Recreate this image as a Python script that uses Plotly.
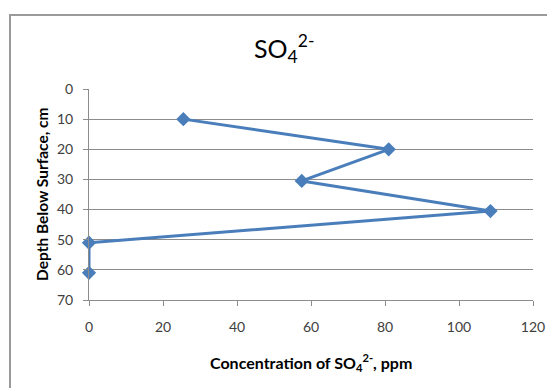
import plotly.graph_objects as go

# Sulfate concentration profile with depth
concentration_ppm = [25.5, 81, 57.5, 108.5, 0, 0]
depth_cm = [10, 20, 30.5, 40.5, 51, 61]
x_ticks = [0, 20, 40, 60, 80, 100, 120]
y_ticks = [0, 10, 20, 30, 40, 50, 60, 70]

W, H = 547, 388
L, R, T, B = 89, 14, 89, 88
pw, ph = W - L - R, H - T - B

font_family = "Lato, Calibri, sans-serif"
line_color = "#4A7EBB"
grid_color = "#8C8C8C"


def px_x(px):
    return (px - L) / pw


def px_y(py):
    return (H - B - py) / ph


fig = go.Figure()
fig.add_trace(go.Scatter(
    x=concentration_ppm,
    y=depth_cm,
    mode="lines+markers",
    line=dict(color=line_color, width=3),
    marker=dict(symbol="diamond", size=11, color=line_color),
    cliponaxis=False,
    showlegend=False,
))

fig.update_layout(
    width=W,
    height=H,
    margin=dict(l=L, r=R, t=T, b=B, autoexpand=False),
    paper_bgcolor="white",
    plot_bgcolor="white",
    font=dict(family=font_family, color="#404040", size=14),
    xaxis=dict(
        range=[0, 120],
        tickvals=x_ticks,
        showgrid=False,
        zeroline=False,
        showline=True,
        linecolor=grid_color,
        linewidth=1,
        ticks="outside",
        ticklen=5,
        tickcolor=grid_color,
        ticklabelstandoff=9,
        tickfont=dict(size=14, color="#404040"),
        automargin=False,
    ),
    yaxis=dict(
        range=[70, 0],
        tickvals=y_ticks,
        showgrid=True,
        gridcolor=grid_color,
        gridwidth=1,
        zeroline=False,
        showline=True,
        linecolor=grid_color,
        linewidth=1,
        ticks="outside",
        ticklen=5,
        tickcolor=grid_color,
        ticklabelstandoff=7,
        tickfont=dict(size=14, color="#404040"),
        automargin=False,
    ),
)

# Chart title
fig.add_annotation(
    text="SO<sub>4</sub><sup>2-</sup>",
    xref="paper", yref="paper",
    x=px_x(284), y=px_y(48),
    xanchor="center", yanchor="middle",
    showarrow=False,
    font=dict(size=25, color="#000000", family=font_family),
)

# Axis titles
fig.add_annotation(
    text="<b>Concentration of SO<sub>4</sub><sup>2-</sup>, ppm</b>",
    xref="paper", yref="paper",
    x=px_x(311), y=px_y(363),
    xanchor="center", yanchor="middle",
    showarrow=False,
    font=dict(size=16, color="#000000", family=font_family),
)
fig.add_annotation(
    text="<b>Depth Below Surface, cm</b>",
    xref="paper", yref="paper",
    x=px_x(42), y=px_y(194),
    xanchor="center", yanchor="middle",
    textangle=-90,
    showarrow=False,
    font=dict(size=15.5, color="#000000", family=font_family),
)

# Chart area border
fig.add_shape(
    type="rect",
    xref="paper", yref="paper",
    x0=px_x(10), x1=1.2,
    y0=-0.6, y1=px_y(15),
    line=dict(color="#9A9A9A", width=2),
    fillcolor="rgba(0,0,0,0)",
    layer="below",
)

fig.write_html("out.html")
